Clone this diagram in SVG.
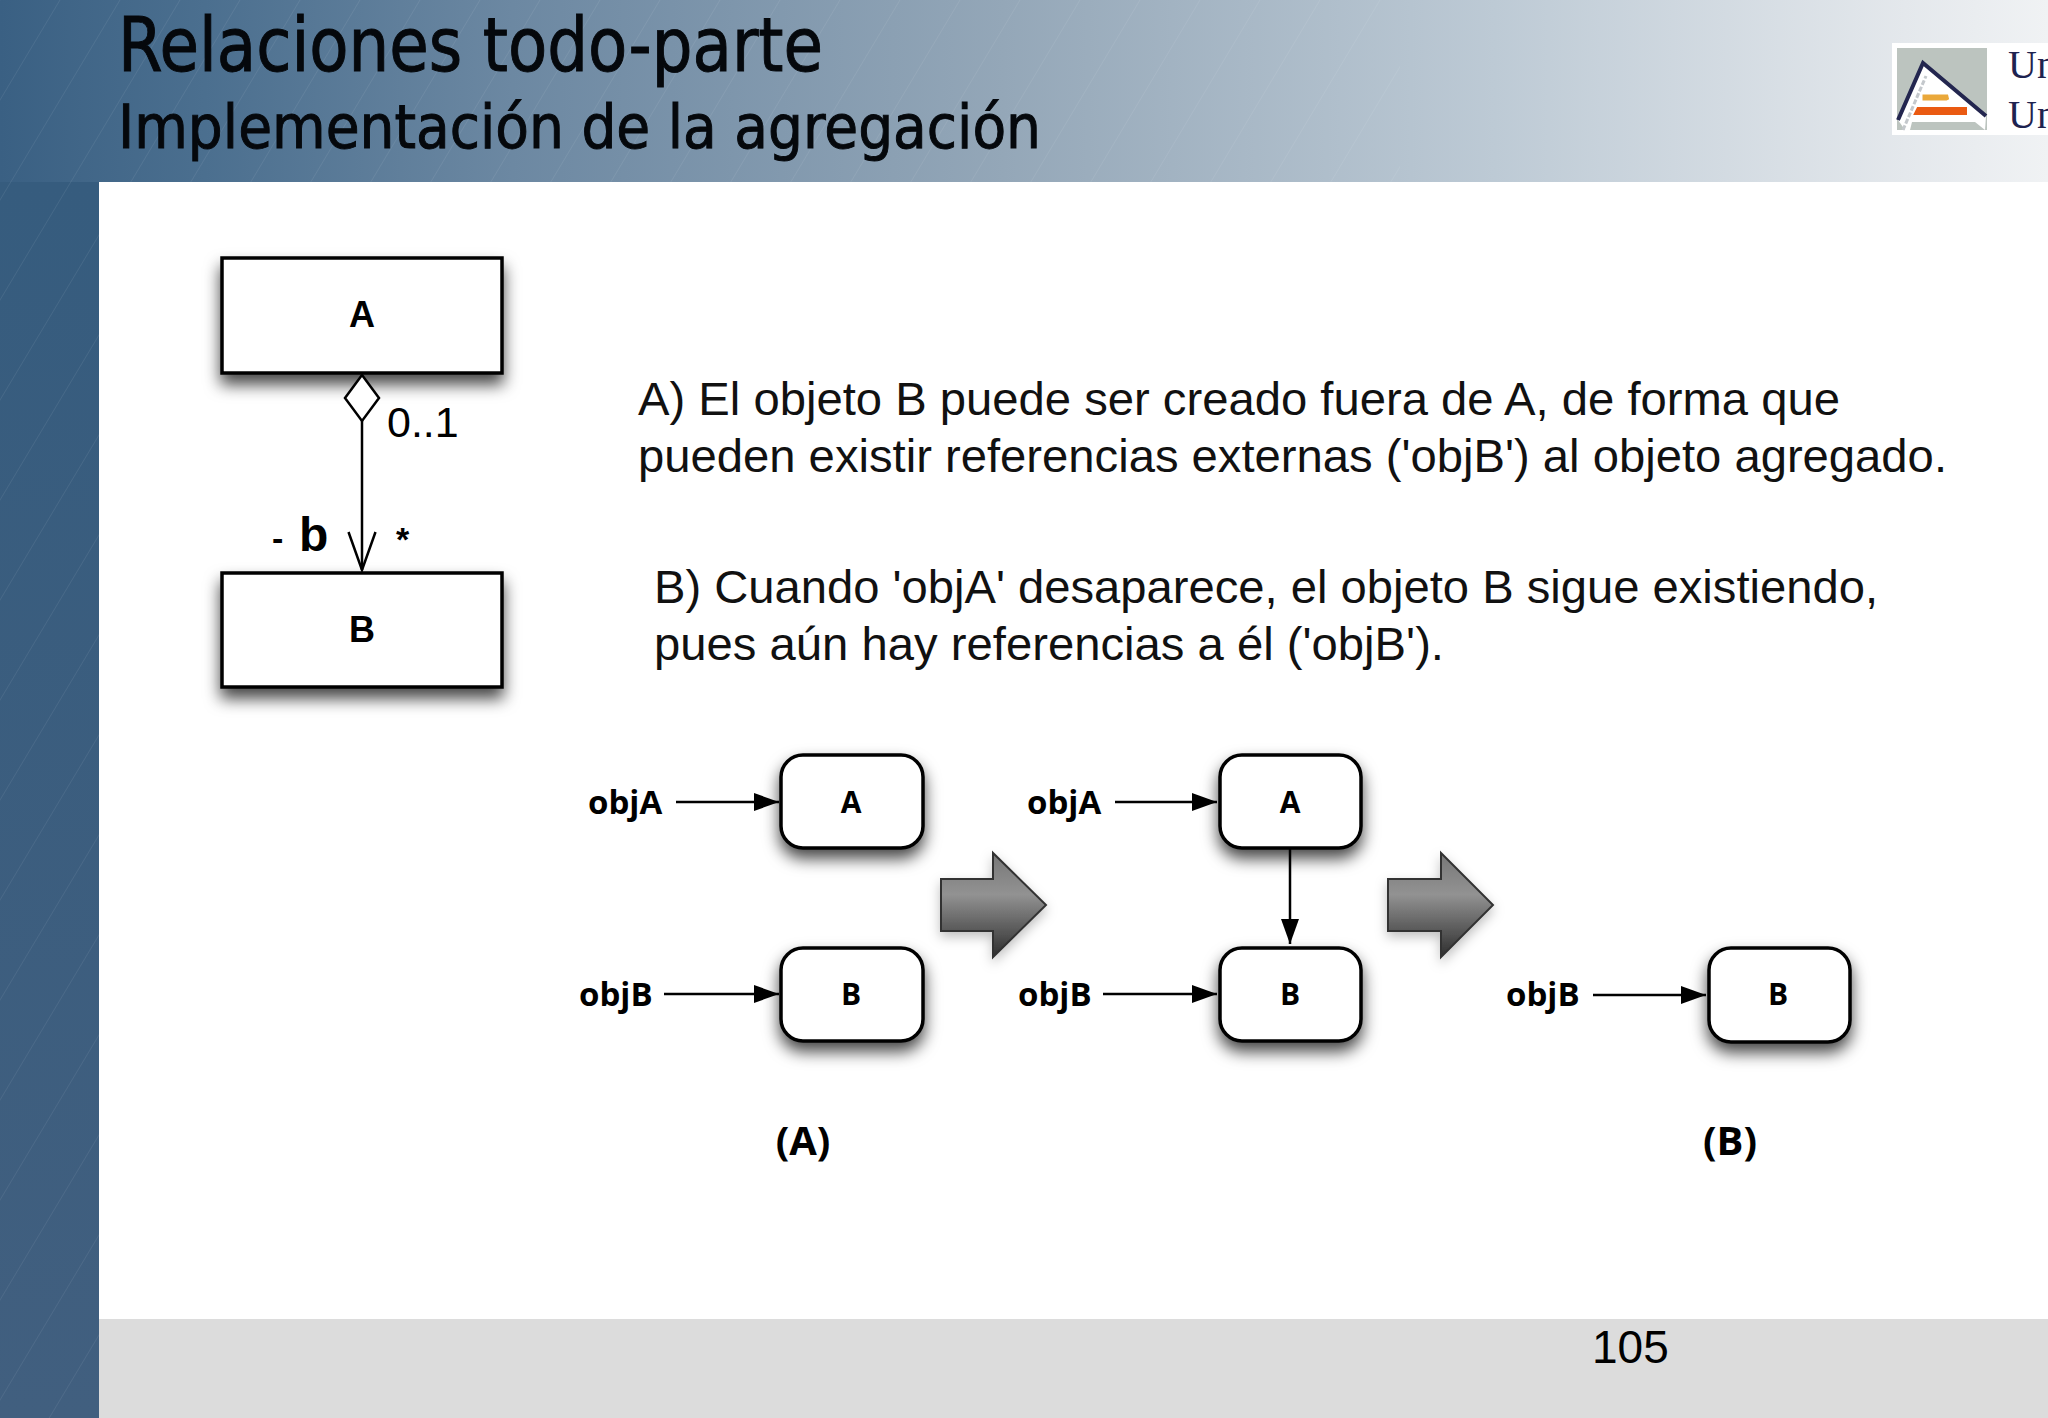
<svg xmlns="http://www.w3.org/2000/svg" width="2048" height="1418" viewBox="0 0 2048 1418">
<style>
.title{font-family:"DejaVu Sans",sans-serif;font-stretch:condensed;fill:#05080c;stroke:#05080c;stroke-width:.9}
.body{font-family:"Liberation Sans",Arial,sans-serif;font-size:46px;fill:#111}
.uml{font-family:"Liberation Sans",Arial,sans-serif;fill:#000}
.lbl{font-family:"Open Sans","DejaVu Sans",sans-serif;font-weight:700;font-size:33px;fill:#000}
.cap{font-family:"Open Sans","DejaVu Sans",sans-serif;font-weight:700;font-size:40px;fill:#000;text-anchor:middle}
.ctr{font-family:"Open Sans","DejaVu Sans",sans-serif;font-weight:700;font-size:30px;fill:#000;text-anchor:middle}
.box{fill:#fff;stroke:#000;stroke-width:3.5;filter:url(#sh)}
.rbox{fill:#fff;stroke:#000;stroke-width:3.5;filter:url(#sh2)}
.conn{fill:none;stroke:#000;stroke-width:2.5}
.big{fill:url(#bigFill);stroke:#333;stroke-width:2;filter:url(#sh3)}
</style>
<defs>
<linearGradient id="hdr" x1="0" y1="0" x2="1" y2="0">
<stop offset="0" stop-color="#3a6083"/>
<stop offset=".1" stop-color="#4b6f8f"/>
<stop offset=".25" stop-color="#6c88a2"/>
<stop offset=".49" stop-color="#94a7b8"/>
<stop offset=".73" stop-color="#bdcad5"/>
<stop offset=".93" stop-color="#e4e8ec"/>
<stop offset="1" stop-color="#f0f2f4"/>
</linearGradient>
<linearGradient id="side" x1="0" y1="0" x2="0" y2="1">
<stop offset="0" stop-color="#365c7e"/>
<stop offset="1" stop-color="#415f7f"/>
</linearGradient>
<linearGradient id="bigFill" x1="0" y1="0" x2="0" y2="1">
<stop offset="0" stop-color="#777"/>
<stop offset=".4" stop-color="#929292"/>
<stop offset="1" stop-color="#2e2e2e"/>
</linearGradient>
<pattern id="hatch" width="60" height="100" patternUnits="userSpaceOnUse">
<path d="M0 100L60 0M-30 50L30 -50M30 150L90 50" stroke="#fff" stroke-opacity=".07" stroke-width="1" fill="none"/>
</pattern>
<filter id="sh" x="-20%" y="-30%" width="140%" height="170%"><feDropShadow dx="0" dy="10" stdDeviation="8" flood-color="#000" flood-opacity=".72"/></filter>
<filter id="sh2" x="-20%" y="-30%" width="140%" height="170%"><feDropShadow dx="0" dy="9" stdDeviation="8" flood-color="#000" flood-opacity=".72"/></filter>
<filter id="sh3" x="-20%" y="-20%" width="140%" height="140%"><feDropShadow dx="0" dy="5" stdDeviation="6" flood-color="#000" flood-opacity=".25"/></filter>
<marker id="solid" markerUnits="userSpaceOnUse" markerWidth="26" markerHeight="20" refX="25" refY="10" orient="auto"><path d="M0 1L25 10L0 19Z" fill="#000"/></marker>
<marker id="open" markerUnits="userSpaceOnUse" markerWidth="42" markerHeight="32" refX="39" refY="16" orient="auto"><path d="M1 2.500L39 16L1 29.500" fill="none" stroke="#000" stroke-width="2.500"/></marker>
<marker id="dia" markerUnits="userSpaceOnUse" markerWidth="50" markerHeight="38" refX="1" refY="19" orient="auto"><path d="M1 19L24 2L47 19L24 36Z" fill="#fff" stroke="#000" stroke-width="2.500"/></marker>
</defs>

<rect width="2048" height="1418" fill="#fff"/>
<g id="background">
<rect x="0" y="0" width="2048" height="182" fill="url(#hdr)"/>
<rect x="0" y="0" width="1400" height="182" fill="url(#hatch)"/>
<rect x="0" y="182" width="99" height="1236" fill="url(#side)"/>
<rect x="0" y="182" width="99" height="1236" fill="url(#hatch)"/>
<rect x="99" y="1319" width="1949" height="99" fill="#dcdcdc"/>
</g>

<g id="logo">
<rect x="1892" y="43" width="156" height="92" fill="#fff"/>
<rect x="1897" y="48" width="90" height="82" fill="#bcc4bf"/>
<path d="M1898 120L1923 63L1986 116L1985 130L1905 130Z" fill="#fff"/>
<path d="M1910 130H1985L1975 122H1912Z" fill="#bcc4bf"/>
<path d="M1903 130L1926 76" fill="none" stroke="#c4c8cc" stroke-width="3" stroke-dasharray="5 2"/>
<path d="M1898 120L1923 63L1986 116" fill="none" stroke="#23264f" stroke-width="4"/>
<path d="M1925 98H1946L1948 97H1925Z" fill="#eaa83a" stroke="#eaa83a" stroke-width="5"/>
<path d="M1919 110H1964L1964 112H1918Z" fill="#ea5a12" stroke="#ea5a12" stroke-width="6"/>
<text x="2008" y="78" font-family="'Liberation Serif',serif" font-size="40" fill="#1e2350">Un</text>
<text x="2008" y="128" font-family="'Liberation Serif',serif" font-size="40" fill="#1e2350">Un</text>
</g>

<g id="titles">
<text class="title" x="118" y="71" font-size="74" textLength="705" lengthAdjust="spacingAndGlyphs">Relaciones todo-parte</text>
<text class="title" x="118" y="148" font-size="61" textLength="923" lengthAdjust="spacingAndGlyphs">Implementación de la agregación</text>
</g>

<g id="description">
<text class="body" x="638" y="415" textLength="1202" lengthAdjust="spacingAndGlyphs">A) El objeto B puede ser creado fuera de A, de forma que</text>
<text class="body" x="638" y="472" textLength="1309" lengthAdjust="spacingAndGlyphs">pueden existir referencias externas ('objB') al objeto agregado.</text>
<text class="body" x="654" y="603" textLength="1224" lengthAdjust="spacingAndGlyphs">B) Cuando 'objA' desaparece, el objeto B sigue existiendo,</text>
<text class="body" x="654" y="660" textLength="790" lengthAdjust="spacingAndGlyphs">pues aún hay referencias a él ('objB').</text>
</g>

<g id="uml-A"><rect class="box" x="222" y="258" width="280" height="115"/><text class="uml" x="362" y="327" font-size="36" font-weight="700" text-anchor="middle">A</text></g>
<g id="uml-B"><rect class="box" x="222" y="573" width="280" height="114"/><text class="uml" x="362" y="642" font-size="36" font-weight="700" text-anchor="middle">B</text></g>

<g id="obj1-A"><rect class="rbox" x="781" y="755" width="142" height="93" rx="22"/><text class="ctr" x="851" y="813">A</text></g>
<g id="obj1-B"><rect class="rbox" x="781" y="948" width="142" height="93" rx="22"/><text class="ctr" x="851" y="1005">B</text></g>
<g id="obj2-A"><rect class="rbox" x="1220" y="755" width="141" height="93" rx="22"/><text class="ctr" x="1290" y="813">A</text></g>
<g id="obj2-B"><rect class="rbox" x="1220" y="948" width="141" height="93" rx="22"/><text class="ctr" x="1290" y="1005">B</text></g>
<g id="obj3-B"><rect class="rbox" x="1709" y="948" width="141" height="94" rx="22"/><text class="ctr" x="1778" y="1005">B</text></g>

<g id="connectors">
<path class="conn" d="M362 375V570" marker-start="url(#dia)" marker-end="url(#open)"/>
<path class="conn" d="M676 802H779" marker-end="url(#solid)"/>
<path class="conn" d="M664 994H779" marker-end="url(#solid)"/>
<path class="conn" d="M1115 802H1217" marker-end="url(#solid)"/>
<path class="conn" d="M1103 994H1217" marker-end="url(#solid)"/>
<path class="conn" d="M1290 849V944" marker-end="url(#solid)"/>
<path class="conn" d="M1593 995H1706" marker-end="url(#solid)"/>
</g>

<g id="transition-1"><path class="big" d="M941 879H993V853L1046 905L993 957V931H941Z"/></g>
<g id="transition-2"><path class="big" d="M1388 879H1441V853L1493 905L1441 957V931H1388Z"/></g>

<g id="labels">
<text class="uml" x="387" y="437" font-size="43">0..1</text>
<text class="uml" x="272" y="550" font-size="34" font-weight="700">-</text>
<text class="uml" x="299" y="551" font-size="48" font-weight="700">b</text>
<text class="uml" x="396" y="551" font-size="34" font-weight="700">*</text>
<text class="lbl" x="588" y="814">objA</text>
<text class="lbl" x="579" y="1006">objB</text>
<text class="lbl" x="1027" y="814">objA</text>
<text class="lbl" x="1018" y="1006">objB</text>
<text class="lbl" x="1506" y="1006">objB</text>
<text class="cap" x="803" y="1155">(A)</text>
<text class="cap" x="1730" y="1155">(B)</text>
<text class="uml" x="1592" y="1363" font-size="46" fill="#111">105</text>
</g>
</svg>
